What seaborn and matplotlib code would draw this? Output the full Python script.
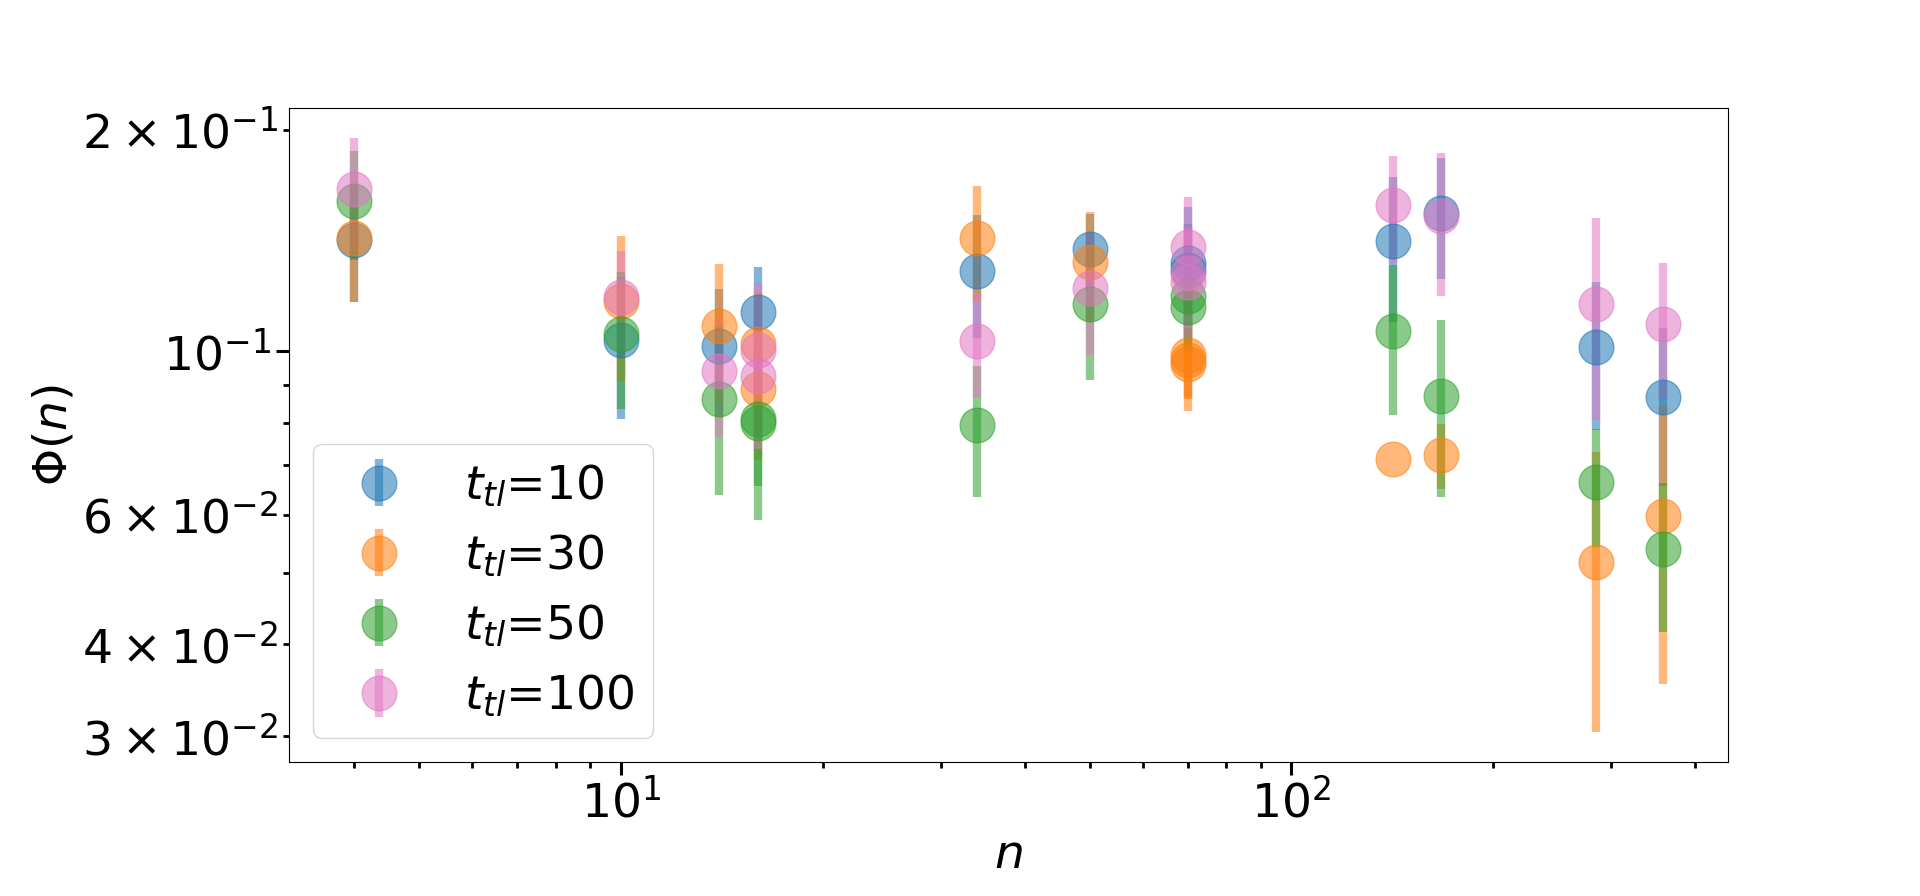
"""Phi(n) against n for several t_tl values, log-log with error bars"""

import seaborn as sns
import matplotlib
matplotlib.use("Agg")
import matplotlib.pyplot as plt

PL = sns.color_palette("tab10")
COLORS = [PL[0], PL[1], PL[2], PL[6]]
FS = 34

T_TL = [10, 30, 50, 100]

N_10 = [4, 10, 14, 16, 34, 50, 70, 70, 142, 167, 285, 358]
PHI_10 = [0.1418, 0.1035, 0.1016, 0.1130, 0.1287, 0.1377, 0.1316, 0.1290,
          0.1410, 0.1540, 0.1013, 0.0866]
ERR_10 = [0.025, 0.0226, 0.020, 0.017, 0.0243, 0.016, 0.0255, 0.020,
          0.0313, 0.0288, 0.023, 0.021]

N_30 = [4, 10, 14, 16, 16, 34, 50, 70, 70, 70, 142, 167, 285, 358]
PHI_30 = [0.1423, 0.1172, 0.1084, 0.1022, 0.0888, 0.1423, 0.1323, 0.0988,
          0.0972, 0.0960, 0.0715, 0.0723, 0.0517, 0.0598]
ERR_30 = [0.0255, 0.026, 0.023, 0.018, 0.0177, 0.0252, 0.0221, 0.012,
          0.011, 0.013, 0.0, 0.0073, 0.0213, 0.0244]

N_50 = [4, 10, 14, 16, 16, 34, 50, 70, 70, 142, 167, 285, 358]
PHI_50 = [0.160, 0.1057, 0.0861, 0.0809, 0.0800, 0.0795, 0.1158, 0.1190,
          0.1148, 0.1064, 0.0869, 0.0664, 0.0539]
ERR_50 = [0.027, 0.0223, 0.0223, 0.0153, 0.021, 0.0161, 0.0244, 0.015,
          0.015, 0.0245, 0.0235, 0.0121, 0.0123]

N_100 = [4, 10, 14, 16, 16, 34, 50, 70, 70, 70, 142, 167, 285, 358]
PHI_100 = [0.166, 0.1185, 0.0939, 0.1004, 0.0925, 0.1032, 0.1218, 0.1385,
           0.1276, 0.1242, 0.1578, 0.1525, 0.1161, 0.1088]
ERR_100 = [0.029, 0.0185, 0.0175, 0.0236, 0.0187, 0.0169, 0.023, 0.0233,
           0.020, 0.020, 0.0261, 0.0335, 0.0355, 0.0228]

SERIES = [(N_10, PHI_10, ERR_10), (N_30, PHI_30, ERR_30),
          (N_50, PHI_50, ERR_50), (N_100, PHI_100, ERR_100)]

fig, ax = plt.subplots(figsize=(19.2, 8.96), dpi=100)
fig.subplots_adjust(left=0.1505, right=0.9, top=0.8795, bottom=0.1496)

for j, (n, phi, err) in enumerate(SERIES):
    ax.errorbar(n, phi, yerr=err, fmt="o", color=COLORS[j], ms=25,
                elinewidth=6, capsize=0, alpha=0.55,
                label=rf"$t_{{tl}}$={T_TL[j]}")

ax.set_xscale("log")
ax.set_yscale("log")

# Plot cosmetics
ax.set_xlabel(r"$n$", fontsize=FS)
ax.set_ylabel(r"$\Phi(n)$", fontsize=FS)
ax.tick_params(which="both", labelsize=FS)
ax.tick_params(which="major", length=9.5, width=2.2)
ax.tick_params(which="minor", length=4.5, width=2.0)
ax.legend(loc="lower left", fontsize=FS)

plt.savefig("out.png", dpi=100)
plt.close()
